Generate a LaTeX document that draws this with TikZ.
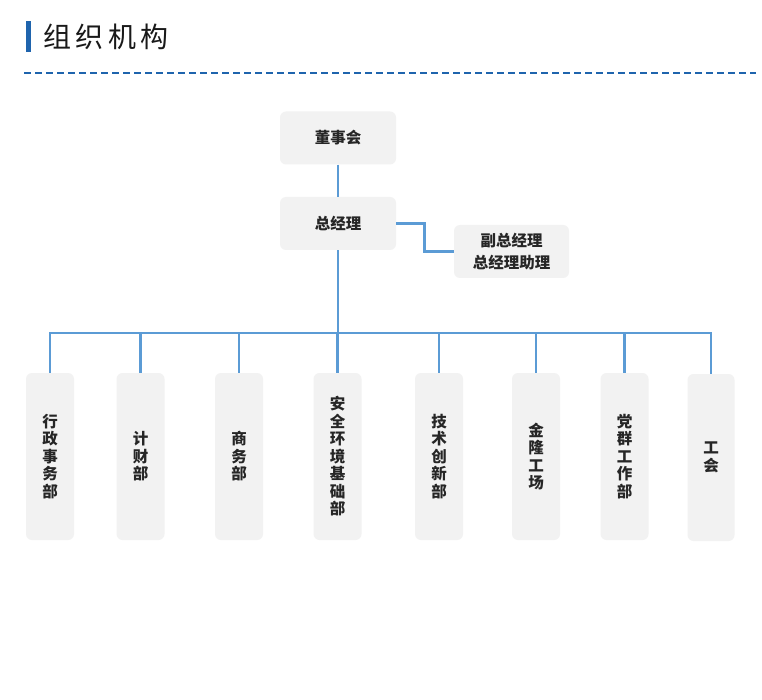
\documentclass[tikz,border=0pt]{standalone}
\usepackage{fontspec}
\newfontfamily\cjk{Noto Sans CJK SC}
\definecolor{lineblue}{HTML}{5B9BD5}
\definecolor{titleblue}{HTML}{1F64AD}
\definecolor{boxgray}{HTML}{F2F2F2}
\tikzset{
  box/.style={fill=boxgray, rounded corners=6pt, inner sep=0pt, align=center,
    font=\cjk\bfseries\fontsize{15.5}{17.5}\selectfont, text=black!85},
  topbox/.style={box, minimum width=116pt, minimum height=53pt},
  deptbox/.style={box, minimum width=48pt, minimum height=167pt},
  conn/.style={draw=lineblue, line width=2.6pt}
}
\begin{document}
\begin{tikzpicture}[x=1pt,y=-1pt]
\useasboundingbox[fill=white] (0,0) rectangle (762,700);
% title
\fill[titleblue] (26,21) rectangle (31,52);
\node[anchor=west, inner sep=0pt, text=black!90,
  font=\cjk\fontsize{28}{28}\selectfont\addfontfeature{LetterSpace=16}] (title) at (43,37) {组织机构};
\draw[titleblue, line width=2pt, dash pattern=on 7pt off 4pt] (24,73) -- (756,73);
% top boxes
\node[topbox] (dsh) at (338,138) {董事会};
\node[topbox] (zjl) at (338,223.5) {总经理};
\node[topbox, minimum width=115pt, font=\cjk\bfseries\fontsize{15.5}{22}\selectfont] (fz) at (511.5,251.5) {副总经理\\总经理助理};
% departments
\node[deptbox] (d1) at (50,456.5) {行\\政\\事\\务\\部};
\node[deptbox] (d2) at (140.5,456.5) {计\\财\\部};
\node[deptbox] (d3) at (239,456.5) {商\\务\\部};
\node[deptbox] (d4) at (337.5,456.5) {安\\全\\环\\境\\基\\础\\部};
\node[deptbox] (d5) at (439,456.5) {技\\术\\创\\新\\部};
\node[deptbox] (d6) at (536,456.5) {金\\隆\\工\\场};
\node[deptbox] (d7) at (624.5,456.5) {党\\群\\工\\作\\部};
\node[deptbox, minimum width=47pt] (d8) at (711,457.5) {工\\会};
% connectors
\coordinate (bus) at (338,333);
\draw[conn] (dsh.south) -- (zjl.north);
\draw[conn] (zjl.east) -- ++(28,0) |- (fz.west);
\draw[conn] (zjl.south) -- (bus);
\draw[conn] (d1.north) -- (d1.north |- bus) -- (d8.north |- bus) -- (d8.north);
\foreach \d in {d2,d3,d4,d5,d6,d7}{
  \draw[conn] (\d.north) -- (\d.north |- bus);
}
\end{tikzpicture}
\end{document}
